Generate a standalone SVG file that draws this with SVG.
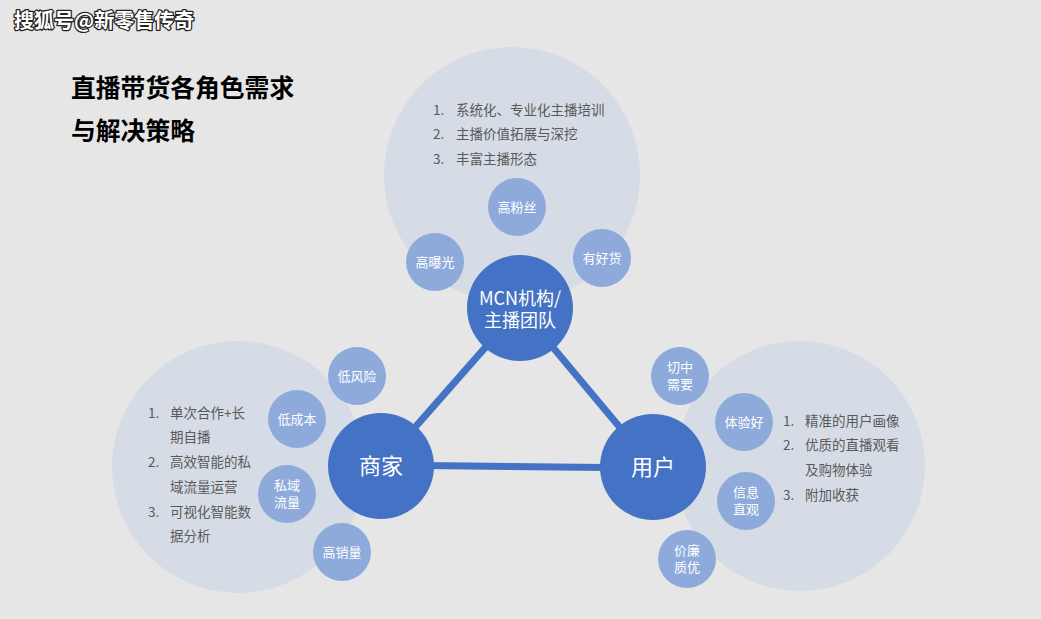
<svg xmlns="http://www.w3.org/2000/svg" width="1041" height="619" viewBox="0 0 1041 619">
<style>
text{font-family:"Noto Sans CJK SC","Noto Sans",sans-serif}
.big{fill:#d6dce5}
.main{fill:#4472c4}
.sm{fill:#8eaadb}
.mt{fill:#fff;text-anchor:middle;font-size:22px}
.st{fill:#fff;text-anchor:middle;font-size:13px}
.li{fill:#595959;font-size:13.5px}
.title{fill:#000;font-size:24.8px;font-weight:bold}
.wm{fill:#fff;font-size:20px;font-weight:bold;stroke:#222;stroke-width:2.5px;paint-order:stroke;stroke-linejoin:round}
.conn{stroke:#4472c4;stroke-width:7;stroke-linecap:butt}
</style>
<rect width="1041" height="619" fill="#e6e6e6"/>
<text class="wm" x="14" y="28">搜狐号@新零售传奇</text>
<text class="title" x="71" y="97">直播带货各角色需求</text>
<text class="title" x="71" y="140">与解决策略</text>

<g id="bg-circles">
<circle class="big" cx="512" cy="175" r="128"/>
<circle class="big" cx="238" cy="467" r="126"/>
<circle class="big" cx="800" cy="466" r="125"/>
</g>

<g id="lists">
<text class="li" x="433" y="115">1.</text><text class="li" x="456" y="115">系统化、专业化主播培训</text>
<text class="li" x="433" y="139">2.</text><text class="li" x="456" y="139">主播价值拓展与深挖</text>
<text class="li" x="433" y="164">3.</text><text class="li" x="456" y="164">丰富主播形态</text>

<text class="li" x="148" y="418">1.</text><text class="li" x="170" y="418">单次合作+长</text>
<text class="li" x="170" y="442">期自播</text>
<text class="li" x="148" y="467">2.</text><text class="li" x="170" y="467">高效智能的私</text>
<text class="li" x="170" y="492">域流量运营</text>
<text class="li" x="148" y="517">3.</text><text class="li" x="170" y="517">可视化智能数</text>
<text class="li" x="170" y="541">据分析</text>

<text class="li" x="783" y="426">1.</text><text class="li" x="805" y="426">精准的用户画像</text>
<text class="li" x="783" y="450">2.</text><text class="li" x="805" y="450">优质的直播观看</text>
<text class="li" x="805" y="475">及购物体验</text>
<text class="li" x="783" y="500">3.</text><text class="li" x="805" y="500">附加收获</text>
</g>

<g id="connectors">
<line class="conn" x1="520" y1="308" x2="381" y2="466"/>
<line class="conn" x1="520" y1="308" x2="653" y2="467"/>
<line class="conn" x1="381" y1="465" x2="653" y2="468"/>
</g>

<g id="node-mcn">
<circle class="main" cx="520" cy="308" r="53"/>
<text class="mt" x="520" y="305" style="font-size:18px">MCN机构/</text>
<text class="mt" x="520" y="327" style="font-size:18px">主播团队</text>
</g>
<g id="node-merchant">
<circle class="main" cx="381" cy="466" r="53"/>
<text class="mt" x="381" y="474">商家</text>
</g>
<g id="node-user">
<circle class="main" cx="653" cy="467" r="53"/>
<text class="mt" x="653" y="475">用户</text>
</g>

<g id="n-gaofensi"><circle class="sm" cx="517" cy="207" r="29"/><text class="st" x="517" y="212">高粉丝</text></g>
<g id="n-gaobaoguang"><circle class="sm" cx="435" cy="262" r="29"/><text class="st" x="435" y="267">高曝光</text></g>
<g id="n-youhaohuo"><circle class="sm" cx="602" cy="258" r="29"/><text class="st" x="602" y="263">有好货</text></g>

<g id="n-difengxian"><circle class="sm" cx="357" cy="376" r="29"/><text class="st" x="357" y="381">低风险</text></g>
<g id="n-dichengben"><circle class="sm" cx="297" cy="419" r="29"/><text class="st" x="297" y="424">低成本</text></g>
<g id="n-siyuliuliang"><circle class="sm" cx="287" cy="494" r="29"/><text class="st" x="287" y="490">私域</text><text class="st" x="287" y="506.5">流量</text></g>
<g id="n-gaoxiaoliang"><circle class="sm" cx="342" cy="552" r="29"/><text class="st" x="342" y="557">高销量</text></g>

<g id="n-qiezhong"><circle class="sm" cx="680" cy="376" r="29"/><text class="st" x="680" y="372">切中</text><text class="st" x="680" y="388.5">需要</text></g>
<g id="n-tiyanhao"><circle class="sm" cx="744" cy="422" r="29"/><text class="st" x="744" y="427">体验好</text></g>
<g id="n-xinxi"><circle class="sm" cx="746" cy="501" r="29"/><text class="st" x="746" y="497">信息</text><text class="st" x="746" y="513.5">直观</text></g>
<g id="n-jialian"><circle class="sm" cx="687" cy="559" r="29"/><text class="st" x="687" y="555">价廉</text><text class="st" x="687" y="571.5">质优</text></g>
</svg>
